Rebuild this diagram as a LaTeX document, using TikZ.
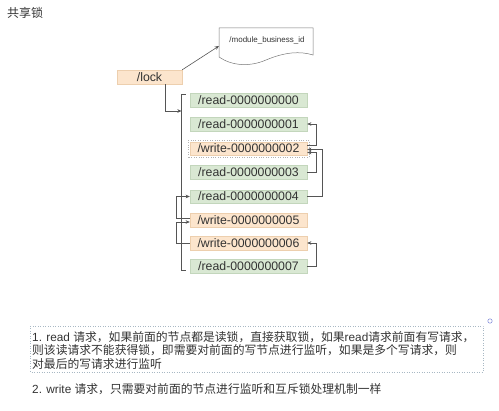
\documentclass[tikz,border=0pt]{standalone}
\usepackage{fontspec}
\setmainfont{Liberation Sans}
\newfontfamily\cjk{Noto Sans CJK SC}
\usetikzlibrary{arrows.meta,calc}
\definecolor{gfill}{HTML}{D9E8D3}
\definecolor{gline}{HTML}{C3D6BC}
\definecolor{ofill}{HTML}{FCE5CD}
\definecolor{oline}{HTML}{EDCFAE}
\definecolor{lgray}{HTML}{555555}
\definecolor{txt}{HTML}{333333}
\definecolor{frame}{HTML}{A8B8C4}
\tikzset{
  box/.style={minimum width=117pt, minimum height=13.5pt, inner sep=0pt,
    font=\fontsize{12.3}{14}\selectfont, text=txt, line width=0.4pt},
  gbox/.style={box, fill=gfill, draw=gline},
  obox/.style={box, fill=ofill, draw=oline},
  arr/.style={draw=lgray, line width=0.6pt, -{Stealth[length=4.2pt,width=3.6pt]}},
  ln/.style={draw=lgray, line width=0.6pt},
  para/.style={anchor=west, inner sep=0pt, text=txt, font=\fontsize{11.8}{14}\selectfont}
}
\begin{document}
\begin{tikzpicture}[x=1pt,y=-1pt]
\useasboundingbox (0,0) rectangle (499,411);
% title
\node[anchor=west, inner sep=0pt, text=txt, font=\cjk\fontsize{12}{14}\selectfont] (title) at (7,13) {共享锁};
% document shape
\draw[draw=lgray!80, line width=0.5pt] (219,57) -- (219,28) -- (313,28) -- (313,55)
  .. controls (300,51) and (285,52) .. (266,60)
  .. controls (250,67) and (232,66) .. (219,57);
\node[inner sep=0pt, text=txt, font=\fontsize{8}{10}\selectfont] (doc) at (267,40) {/module\_business\_id};
\coordinate (docin) at (219,46);
% lock
\node[obox, minimum width=65pt, minimum height=14pt] (lock) at (149.5,77) {/lock};
\draw[arr] (lock.north east) -- (docin);
% children
\node[gbox] (r0) at (248.5,100) {/read-0000000000};
\node[gbox] (r1) at (248.5,124) {/read-0000000001};
\node[obox] (w2) at (248.5,148.5) {/write-0000000002};
\node[gbox] (r3) at (248.5,172) {/read-0000000003};
\node[gbox] (r4) at (248.5,196.5) {/read-0000000004};
\node[obox] (w5) at (248.5,220) {/write-0000000005};
\node[obox] (w6) at (248.5,243) {/write-0000000006};
\node[gbox] (r7) at (248.5,266) {/read-0000000007};
% selection outline on w2
\draw[draw=lgray!45, dotted, line width=0.4pt] ($(w2.south west)+(-1.5,1.5)$) rectangle ($(w2.north east)+(1.5,-1.5)$);
% bracket
\coordinate (bt) at (181.5,94);
\coordinate (bb) at (181.5,270);
\draw[ln] ($(bt)+(4,0)$) -- (bt) -- (bb) -- ($(bb)+(4,0)$);
% lock to bracket
\coordinate (lkd) at ($(lock.south)+(15.5,0)$);
\draw[arr] (lkd) |- (181.5,111);
% right side connectors
\draw[arr] ($(w2.east)+(0,-3.5)$) -- ++(9,0) |- (r1.east);
\draw[arr] (r3.east) -- ++(9,0) |- ($(w2.east)+(0,4)$);
\draw[arr] (r4.east) -- ++(15,0) |- ($(w2.east)+(0,1)$);
\draw[arr] (r7.east) -- ++(9,0) |- (w6.east);
% left side connectors
\draw[arr] ($(w5.west)+(0,-2)$) -- (176,218) |- (r4.west);
\draw[arr] (w6.west) -- (176,243) |- ($(w5.west)+(0,2)$);
% bottom text
\draw[draw=frame, dotted, line width=0.5pt] (30,326) rectangle (483,372);
\draw[draw=frame!70!blue, line width=0.5pt] (490,321) circle (2.2pt);
\node[para] (l1) at (32,337) {1. read {\cjk 请求，如果前面的节点都是读锁，直接获取锁，如果}read{\cjk 请求前面有写请求，}};
\node[para] (l2) at (32,350.5) {\cjk 则该读请求不能获得锁，即需要对前面的写节点进行监听，如果是多个写请求，则};
\node[para] (l3) at (32,364) {\cjk 对最后的写请求进行监听};
\node[para] (l4) at (32,389) {2. write {\cjk 请求，只需要对前面的节点进行监听和互斥锁处理机制一样}};
\end{tikzpicture}
\end{document}
